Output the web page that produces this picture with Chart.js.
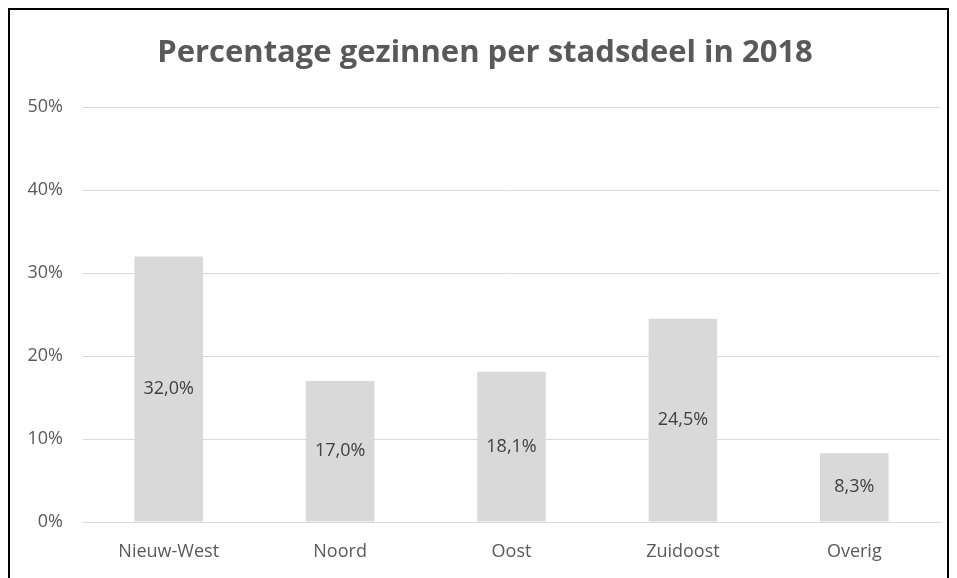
<!DOCTYPE html>
<html>
<head>
<meta charset="utf-8">
<style>
  body { margin: 0; background: #fff; overflow: hidden; }
  #frame { position: absolute; left: 8px; top: 8px; width: 937px; height: 600px; border: 2px solid #000; background: #fff; }
</style>
</head>
<body>
<div id="frame">
    <canvas id="gezinnenChart" width="937" height="590"></canvas>
</div>
<script src="https://cdn.jsdelivr.net/npm/chart.js"></script>
<script>
    // Data
    const stadsdelen = ['Nieuw-West', 'Noord', 'Oost', 'Zuidoost', 'Overig'];
    const percentages = [32.0, 17.0, 18.1, 24.5, 8.3];
    const yTicks = [0, 10, 20, 30, 40, 50];

    const fontFamily = '"Open Sans", Lato, sans-serif';

    // draw value labels in the middle of each bar
    const barLabels = {
        id: 'barLabels',
        afterDatasetsDraw(chart) {
            const ctx = chart.ctx;
            const meta = chart.getDatasetMeta(0);
            ctx.save();
            ctx.font = '18px ' + fontFamily;
            ctx.fillStyle = '#404040';
            ctx.textAlign = 'center';
            ctx.textBaseline = 'middle';
            meta.data.forEach(function(bar, i) {
                const mid = (bar.y + bar.base) / 2;
                ctx.fillText(percentages[i].toFixed(1).replace('.', ',') + '%', bar.x, mid);
            });
            ctx.restore();
        }
    };

    // the title in the original sits a little right of centre
    const shiftTitle = {
        id: 'shiftTitle',
        afterLayout(chart) {
            if (chart.titleBlock) {
                chart.titleBlock.left += 10;
                chart.titleBlock.right += 10;
            }
        }
    };

    new Chart(document.getElementById('gezinnenChart'), {
        type: 'bar',
        data: {
            labels: stadsdelen,
            datasets: [{
                label: 'Percentage gezinnen',
                data: percentages,
                backgroundColor: '#d9d9d9',
                categoryPercentage: 1,
                barPercentage: 0.4
            }]
        },
        options: {
            responsive: false,
            animation: false,
            layout: { padding: { left: 0, right: 7, top: 0, bottom: 38 } },
            plugins: {
                legend: { display: false },
                tooltip: { enabled: false },
                title: {
                    display: true,
                    text: 'Percentage gezinnen per stadsdeel in 2018',
                    color: '#595959',
                    font: { size: 31, weight: 'bold', family: fontFamily, lineHeight: 1.2 },
                    padding: { top: 25, bottom: 35 }
                }
            },
            scales: {
                x: {
                    grid: { display: false, drawTicks: false },
                    border: { color: '#d9d9d9' },
                    ticks: { color: '#595959', font: { size: 18, family: fontFamily }, padding: 19 },
                    afterFit: function(scale) { scale.height = 40; }
                },
                y: {
                    min: 0,
                    max: 50,
                    afterBuildTicks: function(scale) {
                        scale.ticks = yTicks.map(v => ({ value: v }));
                    },
                    grid: { color: '#d9d9d9', drawTicks: false },
                    border: { display: false },
                    ticks: {
                        color: '#595959',
                        font: { size: 18, family: fontFamily },
                        padding: 20,
                        callback: function(value) { return value + '%'; }
                    },
                    afterFit: function(scale) { scale.width = 73; }
                }
            }
        },
        plugins: [barLabels, shiftTitle]
    });
</script>
</body>
</html>
